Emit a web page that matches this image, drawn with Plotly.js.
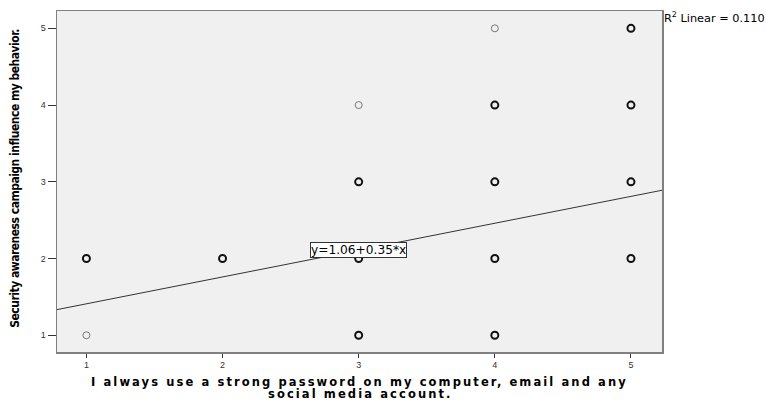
<!DOCTYPE html>
<html>
<head>
<meta charset="utf-8">
<script src="https://cdn.plot.ly/plotly-3.0.1.min.js"></script>
<style>
html,body{margin:0;padding:0;background:#fff;}
#chart{width:766px;height:403px;}
.annotation[data-index="2"] text,.annotation[data-index="3"] text{letter-spacing:2.1px;}
.annotation[data-index="4"] text{letter-spacing:-0.5px;}
</style>
</head>
<body>
<div id="chart"></div>
<script>
// Observed response pairs (x = strong password, y = awareness campaign influence)
var strongPassword = [1, 1, 2, 3, 3, 3, 3, 4, 4, 4, 4, 4, 5, 5, 5, 5];
var campaignInfluence = [2, 1, 2, 4, 3, 2, 1, 5, 4, 3, 2, 1, 5, 4, 3, 2];
// true where several respondents overlap at the same point (drawn darker)
var overlapping = [true, false, true, false, true, true, true, false, true, true, true, true, true, true, true, true];
var tickValues = [1, 2, 3, 4, 5];
var tickLabels = ['1', '2', '3', '4', '5'];
var fitIntercept = 1.06;
var fitSlope = 0.35;
var rSquared = '0.110';
var xRange = [0.784, 5.228];
var yRange = [0.782, 5.226];

var lineX = [xRange[0], xRange[1]];
var lineY = lineX.map(function (v) { return fitIntercept + fitSlope * v; });

var markerColors = overlapping.map(function (o) { return o ? '#111111' : '#777777'; });
var markerWidths = overlapping.map(function (o) { return o ? 2 : 1; });

var traces = [
  {
    x: lineX, y: lineY, mode: 'lines', type: 'scatter',
    line: {color: '#333333', width: 1}, hoverinfo: 'skip', showlegend: false
  },
  {
    x: strongPassword, y: campaignInfluence, mode: 'markers', type: 'scatter',
    marker: {symbol: 'circle-open', size: 7, color: markerColors, line: {color: markerColors, width: markerWidths}},
    showlegend: false
  }
];

var axisCommon = {
  showgrid: false, zeroline: false, showline: true, mirror: true,
  linecolor: '#808080', linewidth: 1.5,
  ticks: 'outside', tickcolor: '#333333', tickwidth: 1,
  tickfont: {family: 'Liberation Sans, Arial, sans-serif', size: 9, color: '#333333'},
  tickvals: tickValues, ticktext: tickLabels
};

var layout = {
  width: 766, height: 403,
  margin: {l: 57, r: 104, t: 11, b: 51, pad: 0},
  paper_bgcolor: '#ffffff', plot_bgcolor: '#f0f0f0',
  xaxis: Object.assign({}, axisCommon, {range: xRange, ticklen: 4}),
  yaxis: Object.assign({}, axisCommon, {range: yRange, ticklen: 8}),
  annotations: [
    {
      x: 3, y: 2.115, xref: 'x', yref: 'y', showarrow: false,
      text: 'y=' + fitIntercept.toFixed(2) + '+' + fitSlope.toFixed(2) + '*x',
      font: {family: 'DejaVu Sans, Verdana, sans-serif', size: 12.2, color: '#000'},
      bgcolor: '#ffffff', bordercolor: '#333333', borderwidth: 1, borderpad: 0
    },
    {
      x: 1, y: 1.008, xref: 'paper', yref: 'paper', xanchor: 'left', yanchor: 'top', showarrow: false,
      text: 'R<sup>2</sup> Linear = ' + rSquared,
      font: {family: 'DejaVu Sans, Verdana, sans-serif', size: 11.3, color: '#000'}
    },
    {
      x: 0.5, y: -0.087, xref: 'paper', yref: 'paper', xanchor: 'center', yanchor: 'middle', showarrow: false,
      text: 'I always use a strong password on my computer, email and any',
      font: {family: 'DejaVu Sans, Verdana, sans-serif', size: 11.5, color: '#000', weight: 'bold'}
    },
    {
      x: 0.5, y: -0.124, xref: 'paper', yref: 'paper', xanchor: 'center', yanchor: 'middle', showarrow: false,
      text: 'social media account.',
      font: {family: 'DejaVu Sans, Verdana, sans-serif', size: 11.5, color: '#000', weight: 'bold'}
    },
    {
      x: -0.0695, y: 0.51, xref: 'paper', yref: 'paper', xanchor: 'center', yanchor: 'middle', showarrow: false,
      textangle: -90,
      text: 'Security awareness campaign influence my behavior.',
      font: {family: 'Liberation Sans Narrow, Arial Narrow, DejaVu Sans Condensed, sans-serif', size: 12, color: '#000', weight: 'bold'}
    }
  ]
};

Plotly.newPlot('chart', traces, layout, {displayModeBar: false, staticPlot: true});
</script>
</body>
</html>
